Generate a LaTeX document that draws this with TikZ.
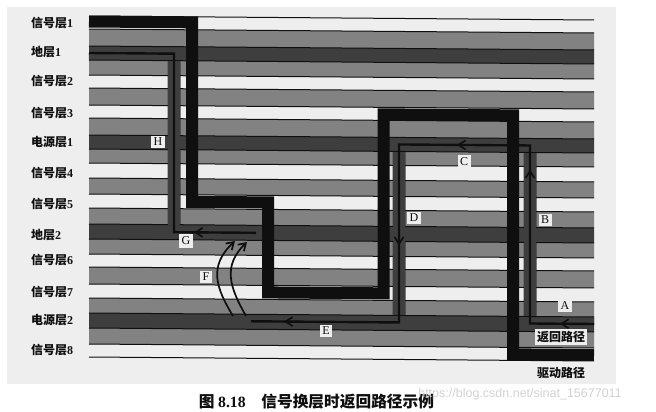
\documentclass[tikz,border=0pt]{standalone}
\usepackage{fontspec}
\setmainfont{Liberation Serif}
\setsansfont{Liberation Sans}
\newfontfamily\cjk{Noto Sans CJK SC}
\usetikzlibrary{arrows.meta,positioning,calc}
\definecolor{PaperGray}{RGB}{238, 238, 238}
\definecolor{LayerGray}{RGB}{130, 130, 130}
\definecolor{PlaneDark}{RGB}{62, 62, 62}
\definecolor{InkBlack}{RGB}{15, 15, 15}
\tikzset{
  layertag/.style={right, inner sep=0pt, font=\cjk\bfseries\fontsize{12}{12}\selectfont, text=InkBlack},
  pathtag/.style={fill=PaperGray, inner sep=2.5pt, font=\fontsize{12}{12}\selectfont, text=InkBlack},
  drivepath/.style={InkBlack, line width=12pt, miter limit=10},
  returnband/.style={PlaneDark, line width=13pt},
  returnline/.style={InkBlack, line width=2.4pt},
  flowtip/.style={InkBlack, line width=1.7pt, -{Straight Barb[length=7pt,width=9pt]}}
}

\begin{document}
\begin{tikzpicture}[x=1pt, y=-1pt]
  \useasboundingbox (0, 0) rectangle (656, 412);
  \fill[PaperGray] (7, 7) rectangle (616, 384);

  \begin{scope}[yshift=0.7pt, yslant=-0.0079]
    % Gray dielectric bands
    \foreach \ya/\yb in {29/46, 60/75, 88/105, 118/135, 149/163, 178/194, 208/224, 239/254, 267/284, 298/313, 328/344} {
      \fill[LayerGray] (89, \ya) rectangle (594, \yb);
    }
    % Plane layers
    \foreach \ya/\yb in {46/60, 135/149, 224/239, 313/328} {
      \fill[PlaneDark] (89, \ya) rectangle (594, \yb);
    }

    % Return path
    \coordinate (gndin) at (89, 53);
    \coordinate (viah) at (174, 53);
    \coordinate (viag) at (174, 231.5);
    \coordinate (gndout) at (256, 231.5);
    \coordinate (pwrin) at (251, 320);
    \coordinate (viad) at (399, 320);
    \coordinate (viac) at (399, 142);
    \coordinate (viab) at (530, 142);
    \coordinate (viaa) at (530, 320);
    \coordinate (pwrout) at (594, 320);
    \draw[returnband] (gndin) -- (viah) -- (viag) -- (gndout);
    \draw[returnband] (pwrin) -- (viad) -- (viac) -- (viab) -- (viaa) -- (pwrout);

    % Layer edges, left open where the return path passes
    \foreach \y in {16, 29, 46, 60, 75, 88, 105, 118, 135, 149, 163, 178, 194, 208, 224, 239, 254, 267, 284, 298, 313, 328, 344, 357} {
      \draw[InkBlack, line width=1pt] (89, \y) -- (594, \y);
    }
    \draw[returnband, line width=12pt] (viah |- 0, 60.5) -- (viah |- 0, 224);
    \draw[returnband, line width=12pt] (viad |- 0, 149.5) -- (viad |- 0, 313);
    \draw[returnband, line width=12pt] (viab |- 0, 149.5) -- (viab |- 0, 313);
    \draw[returnline] (gndin) -- (viah) -- (viag) -- (gndout);
    \draw[returnline] (pwrin) -- (viad) -- (viac) -- (viab) -- (viaa) -- (pwrout);

    % Drive path
    \draw[drivepath] (89, 21.5) -- (192, 21.5) -- (192, 201) -- (268, 201) -- (268, 291)
      -- (383.5, 291) -- (383.5, 112) -- (513, 112) -- (513, 351) -- (594, 351);

    % Flow direction
    \draw[flowtip] (208, 231.5) -- (194, 231.5);
    \draw[flowtip] (298, 320) -- (284, 320);
    \draw[flowtip] (399, 232) -- (399, 243);
    \draw[flowtip] (472, 142) -- (457, 142);
    \draw[flowtip] (530, 178) -- (530, 166);
    \draw[flowtip] (575, 320) -- (560, 320);
  \end{scope}

  % Current spreading between planes
  \coordinate (fa) at (233, 316);
  \coordinate (fb) at (246, 316);
  \coordinate (ga) at (235, 241);
  \coordinate (gb) at (247, 242);
  \draw[flowtip] (fa) .. controls (216, 288) and (208, 266) .. (ga);
  \draw[flowtip] (fb) .. controls (230, 288) and (222, 266) .. (gb);

  % Layer names
  \foreach \y/\name/\num in {23/信号层/1, 52/地层/1, 81/信号层/2, 113/信号层/3, 142/电源层/1, 173/信号层/4, 204/信号层/5, 235/地层/2, 260/信号层/6, 292/信号层/7, 320/电源层/2, 350/信号层/8} {
    \node[layertag] (tag\y) at (31, \y) {\name{\rmfamily\num}};
  }

  % Path letters
  \node[pathtag] (lblh) at (158, 142) {H};
  \node[pathtag] (lblg) at (186, 241) {G};
  \node[pathtag] (lblf) at (206, 277) {F};
  \node[pathtag] (lble) at (326, 331) {E};
  \node[pathtag] (lbld) at (414, 218) {D};
  \node[pathtag] (lblc) at (464, 162) {C};
  \node[pathtag] (lblb) at (545, 220) {B};
  \node[pathtag] (lbla) at (565, 306) {A};
  \node[pathtag, font=\cjk\bfseries\fontsize{12}{12}\selectfont, inner sep=2pt] (lblret) at (561, 337) {返回路径};
  \node[inner sep=0pt, font=\cjk\bfseries\fontsize{12}{12}\selectfont, text=InkBlack] (lbldrv) at (561, 372.5) {驱动路径};

  % Caption and mark
  \node[inner sep=0pt, font=\cjk\bfseries\fontsize{15.7}{15.7}\selectfont, text=InkBlack] (caption) at (316.5, 402) {图 {\rmfamily 8.18}\quad 信号换层时返回路径示例};
  \node[inner sep=0pt, font=\sffamily\fontsize{12.5}{12.5}\selectfont, text=black!18] (mark) at (520, 394) {https://blog.csdn.net/sinat\_15677011};
\end{tikzpicture}
\end{document}
